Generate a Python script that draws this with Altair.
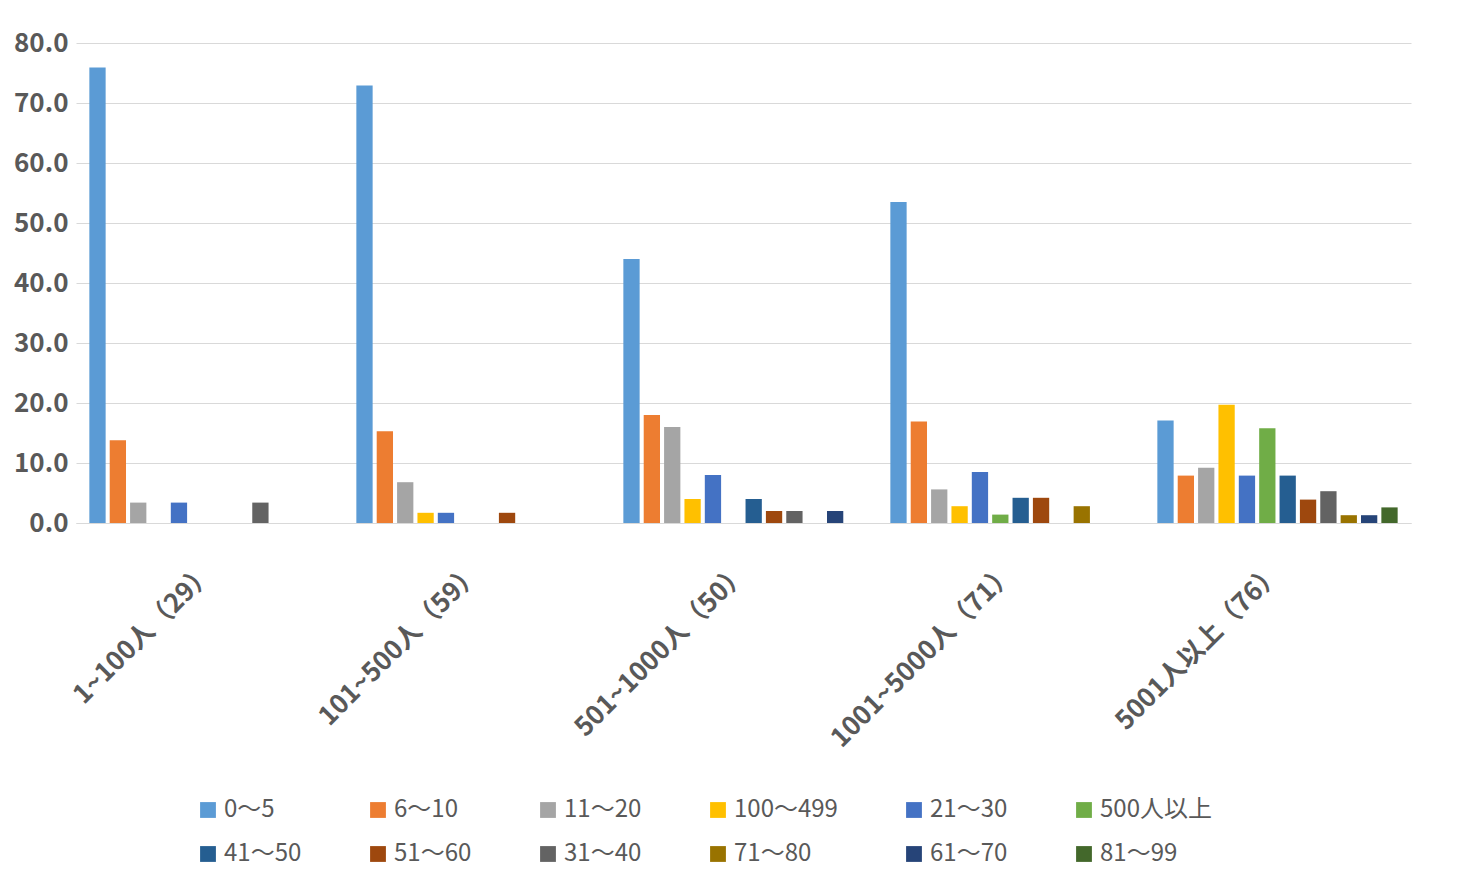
import altair as alt
import pandas as pd

groups = ["1~100人（29）", "101~500人（59）", "501~1000人（50）", "1001~5000人（71）", "5001人以上（76）"]
series = ["0〜5", "6〜10", "11〜20", "100〜499", "21〜30", "500人以上",
          "41〜50", "51〜60", "31〜40", "71〜80", "61〜70", "81〜99"]
colors = ["#5B9BD5", "#ED7D31", "#A5A5A5", "#FFC000", "#4472C4", "#70AD47",
          "#255E91", "#9E480E", "#636363", "#997300", "#264478", "#43682B"]
values = [
    [75.9, 13.8, 3.4, 0, 3.4, 0, 0, 0, 3.4, 0, 0, 0],
    [72.9, 15.3, 6.8, 1.7, 1.7, 0, 0, 1.7, 0, 0, 0, 0],
    [44.0, 18.0, 16.0, 4.0, 8.0, 0, 4.0, 2.0, 2.0, 0, 2.0, 0],
    [53.5, 16.9, 5.6, 2.8, 8.5, 1.4, 4.2, 4.2, 0, 2.8, 0, 0],
    [17.1, 7.9, 9.2, 19.7, 7.9, 15.8, 7.9, 3.9, 5.3, 1.3, 1.3, 2.6],
]

rows = []
for g, vals in zip(groups, values):
    for s, v in zip(series, vals):
        rows.append({"group": g, "series": s, "value": v})
df = pd.DataFrame(rows)

font = "Noto Sans CJK JP"
chart = alt.Chart(df).mark_bar().encode(
    x=alt.X("group:N", sort=groups, title=None,
            scale=alt.Scale(paddingInner=0.1, paddingOuter=0.05),
            axis=alt.Axis(labelAngle=-45, labelAlign="right", labelBaseline="middle",
                          labelFontSize=26, labelFontWeight="bold", labelColor="#595959",
                          labelFont=font, ticks=False, domainColor="#D9D9D9", labelPadding=45,
                          labelLimit=400)),
    xOffset=alt.XOffset("series:N", sort=series, scale=alt.Scale(paddingInner=0.2)),
    y=alt.Y("value:Q", title=None, scale=alt.Scale(domain=[0, 80]),
            axis=alt.Axis(values=list(range(0, 81, 10)), format=".1f", labelFontSize=26,
                          labelFontWeight="bold", labelColor="#595959", labelFont=font,
                          ticks=False, domain=False, gridColor="#D9D9D9", labelPadding=8)),
    color=alt.Color("series:N", sort=series, scale=alt.Scale(domain=series, range=colors),
                    legend=alt.Legend(title=None, orient="none", legendX=120, legendY=755,
                                      direction="horizontal",
                                      columns=6, labelFontSize=24, labelFont=font,
                                      labelColor="#595959", symbolType="square",
                                      symbolSize=250, symbolStrokeWidth=0,
                                      columnPadding=64, rowPadding=20, labelLimit=300)),
).properties(width=1335, height=480, padding={"top": 22, "left": 5, "right": 5, "bottom": 5}
).configure_view(stroke=None)

chart.save("out.html", embed_options={"renderer": "svg", "actions": False})
